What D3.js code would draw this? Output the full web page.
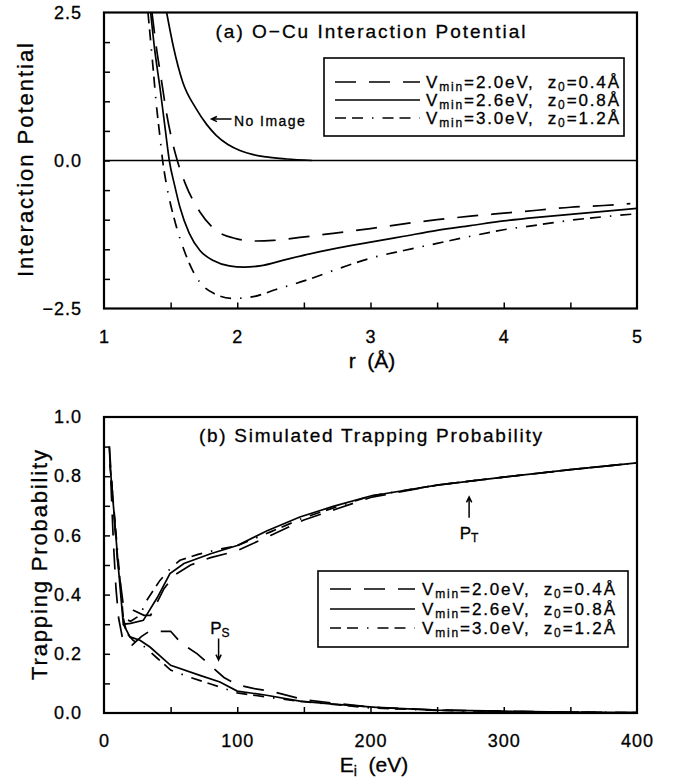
<!DOCTYPE html>
<html>
<head>
<meta charset="utf-8">
<script src="https://cdn.jsdelivr.net/npm/d3@7"></script>
<style>
  body { margin: 0; background: #fff; }
  svg text { font-family: "Liberation Sans", Arial, sans-serif; fill: #000; stroke: #000; stroke-width: 0.3px; }
</style>
</head>
<body>
<script>
// O-Cu potential (a) and trapping probability (b)

// panel (a) ticks
var rTicks = [1, 2, 3, 4, 5]
var vTicks = [-2.5, 0, 2.5]
// panel (b) ticks
var eTicks = [0, 100, 200, 300, 400]
var pTicks = [0, 0.2, 0.4, 0.6, 0.8, 1.0]

// legend entries
var vmin = ["2.0", "2.6", "3.0"]
var z0 = ["0.4", "0.8", "1.2"]

// (a) potentials, r in Angstrom, V in eV
var r20 = [1.36, 1.39, 1.43, 1.47, 1.52, 1.55, 1.61, 1.72, 1.84, 1.99, 2.14, 2.27, 2.47, 2.72, 3.0, 3.25, 3.5, 3.75, 4.0, 4.25, 4.5, 4.75, 4.95]
var v20 = [2.5, 1.96, 1.37, 0.79, 0.25, 0.0, -0.39, -0.87, -1.18, -1.32, -1.36, -1.35, -1.30, -1.23, -1.15, -1.07, -1.00, -0.94, -0.89, -0.84, -0.79, -0.76, -0.73]

var r26 = [1.35, 1.38, 1.42, 1.46, 1.49, 1.53, 1.57, 1.64, 1.72, 1.82, 1.94, 2.05, 2.17, 2.37, 2.62, 2.87, 3.0, 3.25, 3.5, 3.75, 4.0, 4.25, 4.5, 4.75, 5.0]
var v26 = [2.5, 1.88, 1.23, 0.52, 0.0, -0.42, -0.79, -1.23, -1.52, -1.69, -1.78, -1.80, -1.78, -1.67, -1.54, -1.43, -1.38, -1.28, -1.18, -1.10, -1.02, -0.96, -0.91, -0.86, -0.81]

var r30 = [1.33, 1.37, 1.39, 1.42, 1.44, 1.47, 1.53, 1.61, 1.69, 1.82, 1.97, 2.12, 2.29, 2.52, 2.77, 3.0, 3.25, 3.5, 3.75, 4.0, 4.25, 4.5, 4.75, 5.0]
var v30 = [2.5, 1.52, 1.01, 0.40, 0.0, -0.42, -1.01, -1.57, -1.96, -2.24, -2.33, -2.30, -2.18, -2.02, -1.82, -1.65, -1.52, -1.40, -1.28, -1.17, -1.09, -1.01, -0.95, -0.90]

var rNoImage = [1.47, 1.52, 1.59, 1.69, 1.77, 1.84, 1.93, 2.02, 2.12, 2.22, 2.37, 2.56]
var vNoImage = [2.5, 1.93, 1.33, 0.88, 0.61, 0.43, 0.27, 0.17, 0.10, 0.06, 0.025, 0.0]

// (b) trapping (PT) and PS branches vs Ei in eV
var eT20 = [4, 7, 10, 14.5, 22, 30, 35, 45, 53, 65, 80, 100, 125, 150, 175, 200, 250, 300, 350, 400]
var pT20 = [0.90, 0.70, 0.52, 0.364, 0.347, 0.33, 0.33, 0.42, 0.466, 0.50, 0.525, 0.548, 0.60, 0.652, 0.69, 0.728, 0.77, 0.797, 0.822, 0.845]
var eS20 = [4, 5, 7, 9, 11, 14, 21, 28, 34, 50, 58, 70, 80, 90, 100, 112, 127, 150, 175, 200, 250, 300, 350, 400]
var pS20 = [0.90, 0.80, 0.58, 0.42, 0.32, 0.25, 0.229, 0.258, 0.276, 0.276, 0.236, 0.20, 0.16, 0.12, 0.095, 0.083, 0.072, 0.045, 0.032, 0.02, 0.01, 0.006, 0.003, 0.001]

var eT26 = [4.5, 8, 11, 14.5, 20, 29.5, 40, 49.5, 60, 80, 100, 122, 147, 172, 200, 250, 300, 350, 400]
var pT26 = [0.84, 0.65, 0.48, 0.30, 0.303, 0.313, 0.39, 0.471, 0.505, 0.538, 0.566, 0.615, 0.662, 0.698, 0.733, 0.770, 0.797, 0.822, 0.845]
var eS26 = [14.5, 19.5, 27, 34.5, 50, 72, 87, 100, 122, 147, 172, 207, 250, 300, 350, 400]
var pS26 = [0.30, 0.257, 0.246, 0.223, 0.161, 0.127, 0.105, 0.074, 0.060, 0.040, 0.030, 0.018, 0.010, 0.006, 0.003, 0.001]

var eT30 = [4.5, 8, 11, 14.5, 20, 27, 32, 42, 50.75, 57, 70, 85, 100, 125, 150, 175, 200, 250, 300, 350, 400]
var pT30 = [0.84, 0.66, 0.50, 0.32, 0.31, 0.33, 0.38, 0.448, 0.493, 0.516, 0.535, 0.552, 0.565, 0.612, 0.66, 0.697, 0.733, 0.770, 0.797, 0.822, 0.845]
var eS30 = [14.5, 17, 22, 30, 40, 50, 65, 80, 100, 125, 150, 175, 200, 250, 300, 350, 400]
var pS30 = [0.32, 0.27, 0.245, 0.225, 0.185, 0.145, 0.12, 0.098, 0.068, 0.052, 0.038, 0.028, 0.017, 0.009, 0.005, 0.003, 0.001]

var dashes = ["21,13", null, "11,6,11,9,1.5,9"]

var W = 674, H = 783
var left = 104, right = 637

var svg = d3.select("body").append("svg")
  .attr("width", W)
  .attr("height", H)

var xa = d3.scaleLinear().domain([1, 5]).range([left, right])
var ya = d3.scaleLinear().domain([-2.5, 2.5]).range([308.5, 12.5])
var xb = d3.scaleLinear().domain([0, 400]).range([left, right])
var yb = d3.scaleLinear().domain([0, 1]).range([713, 417])

function zip(xs, ys) {
  return xs.map(function(d, i) { return [d, ys[i]] })
}

// frame, inward ticks and tick labels for one panel
function frame(id, x, y, xMinor, yMinor, xMajor, yMajor, xFmt, yFmt) {
  var g = svg.append("g")
  var x0 = x.range()[0], x1 = x.range()[1]
  var y0 = y.range()[1], y1 = y.range()[0]

  svg.append("clipPath").attr("id", id)
    .append("rect").attr("x", x0).attr("y", y0)
    .attr("width", x1 - x0).attr("height", y1 - y0)

  g.append("g").attr("transform", "translate(0," + y1 + ")")
    .call(d3.axisBottom(x).tickValues(xMinor).tickSize(-6).tickFormat(""))
  g.append("g").attr("transform", "translate(" + x0 + ",0)")
    .call(d3.axisLeft(y).tickValues(yMinor).tickSize(-6).tickFormat(""))
  g.selectAll(".domain").remove()
  g.selectAll(".tick line").attr("stroke-width", 1.5)

  var xl = g.append("g").attr("transform", "translate(0," + y1 + ")")
    .call(d3.axisBottom(x).tickValues(xMajor).tickSize(0).tickPadding(21.5).tickFormat(xFmt))
  var yl = g.append("g").attr("transform", "translate(" + x0 + ",0)")
    .call(d3.axisLeft(y).tickValues(yMajor).tickSize(0).tickPadding(22).tickFormat(yFmt))
  xl.select(".domain").remove()
  yl.select(".domain").remove()
  g.selectAll("text").attr("font-size", 18).style("letter-spacing", "1px")

  g.append("rect")
    .attr("x", x0).attr("y", y0)
    .attr("width", x1 - x0).attr("height", y1 - y0)
    .attr("fill", "none").attr("stroke", "#000").attr("stroke-width", 2.2)
  return g
}

function curve(id, pts, dash, x, y, smooth) {
  var line = d3.line()
    .x(function(d) { return x(d[0]) })
    .y(function(d) { return y(d[1]) })
    .curve(smooth ? d3.curveMonotoneX : d3.curveLinear)
  svg.append("path")
    .datum(pts)
    .attr("clip-path", "url(#" + id + ")")
    .attr("d", line)
    .attr("fill", "none")
    .attr("stroke", "#000")
    .attr("stroke-width", 1.7)
    .attr("stroke-dasharray", dash)
}

function arrow(x1, y1, x2, y2) {
  var a = Math.atan2(y2 - y1, x2 - x1), s = 6
  var p = d3.path()
  p.moveTo(x1, y1); p.lineTo(x2, y2)
  p.moveTo(x2 - s * Math.cos(a - 0.45), y2 - s * Math.sin(a - 0.45))
  p.lineTo(x2, y2)
  p.lineTo(x2 - s * Math.cos(a + 0.45), y2 - s * Math.sin(a + 0.45))
  svg.append("path").attr("d", p.toString())
    .attr("fill", "none").attr("stroke", "#000").attr("stroke-width", 1.5)
}

function legend(bx, by, bw, bh, lx0, lx1, tx, rowY) {
  svg.append("rect")
    .attr("x", bx).attr("y", by).attr("width", bw).attr("height", bh)
    .attr("fill", "#fff").attr("stroke", "#000").attr("stroke-width", 1.6)
  vmin.forEach(function(v, i) {
    var yy = rowY[i]
    svg.append("line")
      .attr("x1", lx0).attr("x2", lx1).attr("y1", yy).attr("y2", yy)
      .attr("stroke", "#000").attr("stroke-width", 1.7)
      .attr("stroke-dasharray", dashes[i])
    var t = svg.append("text")
      .attr("x", tx).attr("y", yy + 6)
      .attr("font-size", 17)
      .style("white-space", "pre")
    t.append("tspan").text("V")
    t.append("tspan").attr("font-size", 12).attr("dy", 3).text("min")
    t.append("tspan").attr("dy", -3).text("=" + v + "eV,  z")
    t.append("tspan").attr("font-size", 12).attr("dy", 3).text("0")
    t.append("tspan").attr("dy", -3).text("=" + z0[i] + "\u00C5")
    t.attr("textLength", 193).attr("lengthAdjust", "spacing")
  })
}

// ---- panel (a)
frame("clipA", xa, ya, d3.range(1.5, 5, 0.5), d3.range(-2, 2.01, 0.5), rTicks, vTicks,
  d3.format("d"), function(d) { return d3.format(".1f")(d).replace("-", "\u2212") })

svg.append("line")
  .attr("x1", left).attr("x2", right)
  .attr("y1", ya(0)).attr("y2", ya(0))
  .attr("stroke", "#000").attr("stroke-width", 1.6)

curve("clipA", zip(r20, v20), dashes[0], xa, ya, true)
curve("clipA", zip(r26, v26), dashes[1], xa, ya, true)
curve("clipA", zip(r30, v30), dashes[2], xa, ya, true)
curve("clipA", zip(rNoImage, vNoImage), null, xa, ya, true)

svg.append("text")
  .attr("x", (left + right) / 2).attr("y", 38)
  .attr("text-anchor", "middle").attr("font-size", 19)
  .attr("textLength", 310).attr("lengthAdjust", "spacing")
  .text("(a) O\u2212Cu Interaction Potential")

arrow(xa(1.957), ya(0.70), xa(1.807), ya(0.70))
svg.append("text")
  .attr("x", xa(1.975)).attr("y", ya(0.59))
  .attr("font-size", 14)
  .attr("textLength", 71).attr("lengthAdjust", "spacing")
  .text("No Image")

legend(324, 58, 300, 78, 335, 420, 426, [82, 100, 118])

svg.append("text")
  .attr("transform", "translate(33,160) rotate(-90)")
  .attr("text-anchor", "middle").attr("font-size", 22)
  .attr("textLength", 234).attr("lengthAdjust", "spacing")
  .text("Interaction Potential")

svg.append("text")
  .attr("x", 372).attr("y", 368)
  .attr("text-anchor", "middle").attr("font-size", 21)
  .style("white-space", "pre")
  .text("r  (\u00C5)")

// ---- panel (b)
frame("clipB", xb, yb, d3.range(50, 400, 50), d3.range(0.1, 0.95, 0.1), eTicks, pTicks,
  d3.format("d"), d3.format(".1f"))

curve("clipB", zip(eT20, pT20), dashes[0], xb, yb, false)
curve("clipB", zip(eS20, pS20), dashes[0], xb, yb, false)
curve("clipB", zip(eT26, pT26), dashes[1], xb, yb, false)
curve("clipB", zip(eS26, pS26), dashes[1], xb, yb, false)
curve("clipB", zip(eT30, pT30), dashes[2], xb, yb, false)
curve("clipB", zip(eS30, pS30), dashes[2], xb, yb, false)

svg.append("text")
  .attr("x", (left + right) / 2).attr("y", 442)
  .attr("text-anchor", "middle").attr("font-size", 19)
  .attr("textLength", 343).attr("lengthAdjust", "spacing")
  .text("(b) Simulated Trapping Probability")

// P_T and P_S markers
arrow(xb(274), yb(0.66), xb(274), yb(0.73))
var pt = svg.append("text")
  .attr("x", xb(274)).attr("y", 539)
  .attr("text-anchor", "middle").attr("font-size", 17)
pt.append("tspan").text("P")
pt.append("tspan").attr("font-size", 12).attr("dy", 3).text("T")

arrow(xb(86), yb(0.252), xb(86), yb(0.179))
var ps = svg.append("text")
  .attr("x", xb(87)).attr("y", 634)
  .attr("text-anchor", "middle").attr("font-size", 17)
ps.append("tspan").text("P")
ps.append("tspan").attr("font-size", 12).attr("dy", 3).text("S")

legend(318, 571, 310, 76, 330, 415, 422, [589, 609, 628])

svg.append("text")
  .attr("transform", "translate(47,565) rotate(-90)")
  .attr("text-anchor", "middle").attr("font-size", 22)
  .attr("textLength", 230).attr("lengthAdjust", "spacing")
  .text("Trapping Probability")

var el = svg.append("text")
  .attr("x", 374).attr("y", 772)
  .attr("text-anchor", "middle").attr("font-size", 21)
  .style("white-space", "pre")
el.append("tspan").text("E")
el.append("tspan").attr("font-size", 14).attr("dy", 4).text("i")
el.append("tspan").attr("dy", -4).text("  (eV)")
</script>
</body>
</html>
